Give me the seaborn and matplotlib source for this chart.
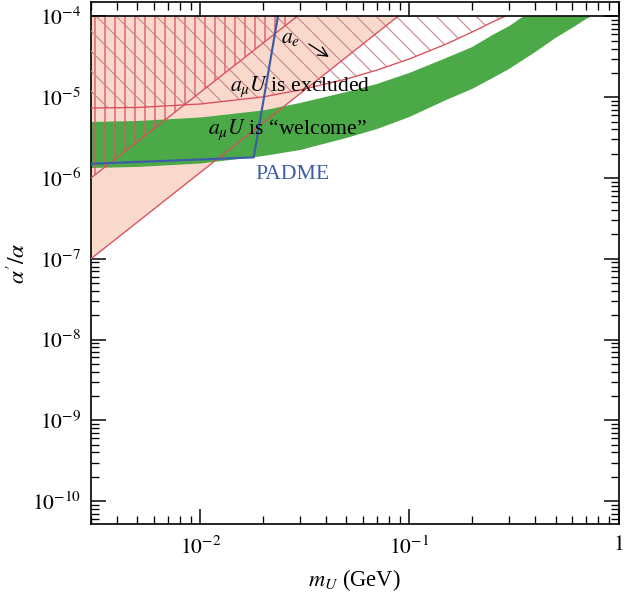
import numpy as np
import matplotlib
matplotlib.use("Agg")
import matplotlib.pyplot as plt
import seaborn as sns
from matplotlib.ticker import LogLocator, NullFormatter

# ---- data (U boson mass in GeV, coupling ratio alpha'/alpha) ----
# a_mu "welcome" band: upper and lower edges
welcome_hi_m = [0.003, 0.005, 0.01, 0.02, 0.03, 0.05, 0.07, 0.1, 0.15, 0.2, 0.25, 0.3, 0.35]
welcome_hi = [4.94e-6, 5.08e-6, 5.61e-6, 6.86e-6, 8.49e-6, 1.16e-5, 1.46e-5, 2.0e-5,
              3.06e-5, 4.19e-5, 5.9e-5, 7.6e-5, 1.0e-4]
welcome_lo_m = [0.003, 0.005, 0.01, 0.02, 0.03, 0.05, 0.07, 0.1, 0.15, 0.2, 0.25, 0.3,
                0.4, 0.5, 0.6, 0.7, 0.74]
welcome_lo = [1.33e-6, 1.37e-6, 1.51e-6, 1.87e-6, 2.22e-6, 3.13e-6, 4.04e-6, 5.69e-6,
              9.24e-6, 1.27e-5, 1.73e-5, 2.24e-5, 3.63e-5, 5.42e-5, 7.2e-5, 9.3e-5, 1.0e-4]

# a_mu exclusion limit
amu_m = [0.003, 0.005, 0.01, 0.02, 0.03, 0.05, 0.07, 0.1, 0.15, 0.2, 0.25, 0.285]
amu_lim = [7.36e-6, 7.46e-6, 8.24e-6, 1.01e-5, 1.23e-5, 1.68e-5, 2.17e-5, 2.98e-5,
           4.56e-5, 6.43e-5, 8.55e-5, 1.0e-4]

# a_e limits (two straight lines in log-log)
ae_m = [0.003, 0.088]
ae_lim = [1.0e-7, 1.0e-4]
ae2_m = [0.003, 0.029]
ae2_lim = [1.0e-6, 1.0e-4]

# PADME projected reach
padme_m = [0.003, 0.018, 0.0235]
padme_lim = [1.5e-6, 1.8e-6, 1.0e-4]

y_cap = 1.0e-4

x_ticks = [1e-2, 1e-1, 1.0]
x_tick_labels = [r"$10^{-2}$", r"$10^{-1}$", r"$1$"]
y_ticks = [1e-10, 1e-9, 1e-8, 1e-7, 1e-6, 1e-5, 1e-4]
y_tick_labels = [r"$10^{-10}$", r"$10^{-9}$", r"$10^{-8}$", r"$10^{-7}$",
                 r"$10^{-6}$", r"$10^{-5}$", r"$10^{-4}$"]

# ---- style ----
sns.set_theme(style="ticks")
plt.rcParams["font.family"] = ["Liberation Serif", "DejaVu Serif"]
plt.rcParams["mathtext.fontset"] = "stix"
plt.rcParams["axes.linewidth"] = 1.0
plt.rcParams["axes.edgecolor"] = "black"
plt.rcParams["text.color"] = "black"
plt.rcParams["axes.labelcolor"] = "black"
plt.rcParams["xtick.color"] = "black"
plt.rcParams["ytick.color"] = "black"

PINK = "#f9d9cc"
GREEN = "#4ca947"
RED = "#d9505c"
VHATCH = "#de5563"
DHATCH = "#c4848a"
BLUE = "#3d5ca8"

DPI = 120
fig = plt.figure(figsize=(635 / DPI, 599 / DPI), dpi=DPI)
ax = fig.add_axes([91 / 635, 1 - 524 / 599, (618.5 - 91) / 635, (524 - 2) / 599])
ax.set_xscale("log")
ax.set_yscale("log")
ax.set_xlim(0.003, 1.0)
ax.set_ylim(5.2e-11, 1.51e-4)


def hatched(xs, ys, pattern, color, lw):
    with plt.rc_context({"hatch.linewidth": lw, "hatch.color": color}):
        polys = ax.fill(xs, ys, facecolor="none", edgecolor=color, linewidth=0,
                        hatch=pattern, zorder=3)
    for p in polys:
        if hasattr(p, "set_hatch_linewidth"):
            p.set_hatch_linewidth(lw)


# a_e excluded region (shaded)
ax.fill(ae_m + [ae_m[0]], ae_lim + [y_cap], facecolor=PINK, edgecolor="none", zorder=1)

# a_mu welcome band
band_x = welcome_hi_m + welcome_lo_m[::-1]
band_y = welcome_hi + welcome_lo[::-1]
ax.fill(band_x, band_y, facecolor=GREEN, edgecolor="none", zorder=2)

# stronger a_e limit (vertical hatching)
hatched(ae2_m + [ae2_m[0]], ae2_lim + [y_cap], "||", VHATCH, 0.8)

# a_mu excluded region (diagonal hatching)
hatched(amu_m + [amu_m[0]], amu_lim + [y_cap], "\\\\", DHATCH, 0.65)

# boundary lines
for xs, ys in [(ae_m, ae_lim), (ae2_m, ae2_lim), (amu_m, amu_lim)]:
    sns.lineplot(x=xs, y=ys, color=RED, lw=0.8, ax=ax, sort=False,
                 estimator=None, zorder=4)

sns.lineplot(x=padme_m, y=padme_lim, color=BLUE, lw=1.3, ax=ax, sort=False,
             estimator=None, zorder=5)

ax.axhline(y_cap, color="black", lw=1.0, zorder=6)

# labels inside the plot
fs = 13
ax.text(0.0271, 5.4e-5, r"$a_e$", fontsize=fs, ha="center", va="center", zorder=7)
ax.annotate("", xy=(0.0425, 3.0e-5), xytext=(0.0320, 4.8e-5),
            arrowprops=dict(arrowstyle="->", color="black", lw=0.8,
                            mutation_scale=14), zorder=7)
ax.text(0.030, 1.34e-5, r"$a_{\mu}U$ is excluded", fontsize=fs, ha="center",
        va="center", zorder=7)
ax.text(0.0262, 3.93e-6, "$a_{\\mu}U$ is \u201cwelcome\u201d", fontsize=fs,
        ha="center", va="center", zorder=7)
ax.text(0.0277, 1.09e-6, "PADME", fontsize=fs, color=BLUE, ha="center",
        va="center", zorder=7)

# axes
ax.set_xticks(x_ticks, x_tick_labels)
ax.set_yticks(y_ticks, y_tick_labels)
ax.xaxis.set_minor_locator(LogLocator(base=10, subs=np.arange(2, 10), numticks=30))
ax.yaxis.set_minor_locator(LogLocator(base=10, subs=np.arange(2, 10), numticks=30))
ax.xaxis.set_minor_formatter(NullFormatter())
ax.yaxis.set_minor_formatter(NullFormatter())
ax.tick_params(which="major", direction="in", length=9, width=0.9, top=True,
               right=True, labelsize=13, colors="black")
ax.tick_params(which="minor", direction="in", length=4.8, width=0.8, top=True,
               right=True, colors="black")
ax.tick_params(axis="x", which="major", pad=7.5)
ax.tick_params(axis="y", which="major", pad=6)

ax.set_xlabel(r"$m_U$ (GeV)", fontsize=13.5, labelpad=5)
ax.set_ylabel(r"$\alpha'/\alpha$", fontsize=14, labelpad=1)

fig.savefig("out.png", dpi=DPI)
